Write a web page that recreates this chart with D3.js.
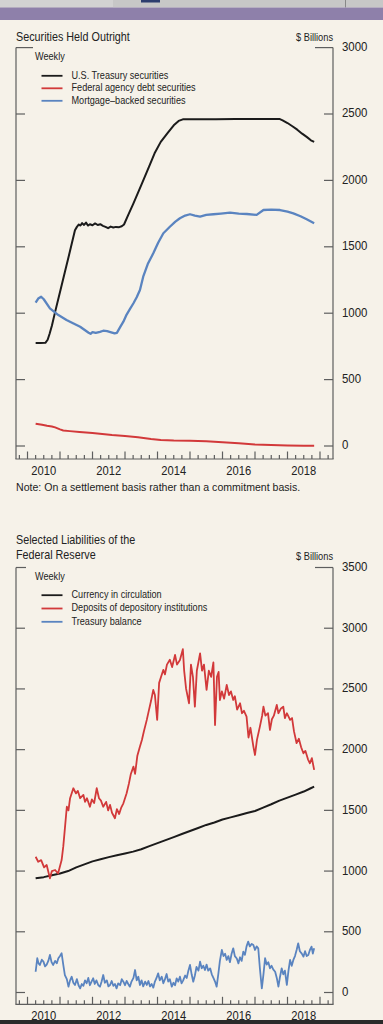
<!DOCTYPE html>
<html><head><meta charset="utf-8">
<script src="https://cdn.jsdelivr.net/npm/d3@7"></script>
<style>
html,body{margin:0;padding:0;background:#f6f2e9;}
svg{display:block;}
text{font-family:"Liberation Sans Narrow","Liberation Sans",Arial,sans-serif;fill:#222;}
</style></head>
<body>
<svg id="c" width="383" height="1024"></svg>
<script>
// ---------- DATA ----------
const yearLabels = [2010, 2012, 2014, 2016, 2018];

const chart1Title = ["Securities Held Outright"];
const chart1Series = ["U.S. Treasury securities", "Federal agency debt securities", "Mortgage\u2013backed securities"];
const chart1Ticks = [0, 500, 1000, 1500, 2000, 2500, 3000];
const chart1Note = "Note: On a settlement basis rather than a commitment basis.";

const treasury = [[2010.25,776],[2010.40,776],[2010.55,777],[2010.62,800],[2010.68,845],[2010.75,905],[2010.85,1010],
 [2011.00,1160],[2011.15,1310],[2011.30,1460],[2011.46,1625],[2011.52,1650],[2011.58,1668],[2011.63,1660],[2011.68,1678],
 [2011.74,1665],[2011.80,1682],[2011.86,1660],[2011.92,1670],[2012.00,1662],[2012.08,1676],[2012.16,1664],[2012.24,1670],
 [2012.32,1658],[2012.40,1650],[2012.48,1640],[2012.56,1652],[2012.64,1645],[2012.72,1650],[2012.82,1648],[2012.90,1655],
 [2012.97,1668],[2013.10,1740],[2013.26,1827],[2013.50,1965],[2013.75,2110],[2013.91,2204],[2014.10,2290],[2014.32,2360],
 [2014.50,2415],[2014.65,2448],[2014.78,2460],[2015.20,2461],[2015.80,2461],[2016.40,2462],[2017.00,2463],[2017.50,2463],
 [2017.75,2463],[2017.85,2452],[2018.00,2432],[2018.15,2408],[2018.30,2382],[2018.45,2352],[2018.60,2326],[2018.72,2302],[2018.82,2290]];

const agency = [[2010.25,168],[2010.45,160],[2010.60,152],[2010.75,147],[2010.85,140],[2011.00,125],[2011.10,117],[2011.30,112],
 [2011.60,105],[2012.00,97],[2012.30,90],[2012.60,82],[2013.00,76],[2013.40,66],[2013.80,53],[2014.10,45],[2014.50,41],
 [2015.00,39],[2015.50,36],[2016.00,28],[2016.50,20],[2017.00,11],[2017.50,7],[2018.00,4],[2018.50,2.5],[2018.82,2.4]];

const mbs = [[2010.25,1079],[2010.33,1110],[2010.42,1124],[2010.50,1105],[2010.69,1037],[2010.95,986],[2011.20,949],
 [2011.40,925],[2011.62,898],[2011.75,875],[2011.88,853],[2011.94,845],[2012.00,858],[2012.10,852],[2012.23,860],
 [2012.33,868],[2012.45,865],[2012.55,858],[2012.68,848],[2012.75,852],[2012.85,895],[2012.95,936],[2013.05,990],
 [2013.15,1030],[2013.26,1075],[2013.36,1120],[2013.46,1175],[2013.56,1275],[2013.70,1370],[2013.87,1451],[2014.02,1530],
 [2014.18,1602],[2014.38,1651],[2014.55,1690],[2014.69,1715],[2014.85,1735],[2015.00,1745],[2015.15,1735],[2015.31,1727],
 [2015.50,1740],[2015.72,1745],[2015.95,1750],[2016.23,1757],[2016.50,1750],[2016.75,1747],[2017.05,1740],[2017.26,1777],
 [2017.50,1780],[2017.77,1777],[2018.00,1765],[2018.18,1752],[2018.40,1730],[2018.59,1707],[2018.72,1690],[2018.82,1677]];

const chart2Title = ["Selected Liabilities of the", "Federal Reserve"];
const chart2Series = ["Currency in circulation", "Deposits of depository institutions", "Treasury balance"];
const chart2Ticks = [0, 500, 1000, 1500, 2000, 2500, 3000, 3500];

const currency = [[2010.25,940],[2010.50,950],[2010.75,965],[2011.00,980],[2011.25,1000],[2011.50,1030],[2011.75,1055],
 [2012.00,1080],[2012.25,1097],[2012.50,1115],[2012.75,1130],[2013.00,1145],[2013.25,1160],[2013.50,1180],[2013.75,1205],
 [2014.00,1230],[2014.25,1255],[2014.50,1280],[2014.75,1305],[2015.00,1330],[2015.25,1355],[2015.50,1380],[2015.75,1400],
 [2016.00,1425],[2016.25,1442],[2016.50,1460],[2016.75,1478],[2017.00,1495],[2017.25,1522],[2017.50,1550],[2017.75,1580],
 [2018.00,1605],[2018.25,1630],[2018.50,1655],[2018.70,1680],[2018.82,1695]];

const deposits = [[2010.25,1118],[2010.33,1077],[2010.42,1090],[2010.51,1030],[2010.59,1050],[2010.69,940],[2010.75,1000],
 [2010.85,1009],[2010.94,980],[2011.05,1091],[2011.10,1201],[2011.15,1350],[2011.21,1530],[2011.26,1500],[2011.31,1600],
 [2011.41,1682],[2011.49,1640],[2011.55,1660],[2011.62,1600],[2011.72,1627],[2011.77,1570],[2011.83,1600],[2011.92,1530],
 [2011.98,1590],[2012.05,1560],[2012.13,1682],[2012.20,1600],[2012.26,1580],[2012.33,1530],[2012.42,1570],[2012.48,1500],
 [2012.54,1545],[2012.60,1480],[2012.69,1435],[2012.75,1510],[2012.82,1470],[2012.88,1520],[2012.95,1558],[2013.05,1641],
 [2013.12,1720],[2013.18,1800],[2013.26,1860],[2013.31,1800],[2013.38,1950],[2013.46,2025],[2013.52,2080],[2013.58,2150],
 [2013.67,2245],[2013.74,2330],[2013.80,2400],[2013.87,2492],[2013.92,2450],[2013.99,2245],[2014.05,2550],[2014.11,2600],
 [2014.18,2657],[2014.23,2620],[2014.29,2700],[2014.38,2740],[2014.45,2680],[2014.54,2780],[2014.60,2700],[2014.69,2739],
 [2014.78,2827],[2014.82,2650],[2014.88,2500],[2014.97,2382],[2015.03,2700],[2015.09,2600],[2015.15,2354],[2015.21,2650],
 [2015.31,2793],[2015.37,2650],[2015.43,2700],[2015.51,2492],[2015.58,2650],[2015.65,2600],[2015.72,2718],[2015.77,2203],
 [2015.83,2600],[2015.88,2640],[2015.92,2409],[2015.98,2480],[2016.05,2420],[2016.13,2533],[2016.20,2450],[2016.26,2480],
 [2016.33,2409],[2016.38,2440],[2016.45,2330],[2016.54,2382],[2016.60,2300],[2016.66,2320],[2016.74,2272],[2016.80,2100],
 [2016.86,2180],[2016.95,2025],[2017.00,1956],[2017.06,2080],[2017.15,2190],[2017.22,2280],[2017.26,2354],[2017.32,2280],
 [2017.40,2300],[2017.46,2162],[2017.52,2250],[2017.58,2280],[2017.67,2368],[2017.72,2300],[2017.80,2340],[2017.87,2354],
 [2017.92,2260],[2017.98,2300],[2018.08,2245],[2018.14,2260],[2018.20,2150],[2018.28,2053],[2018.35,2090],[2018.42,2020],
 [2018.49,1970],[2018.55,1990],[2018.63,1920],[2018.69,1888],[2018.75,1930],[2018.82,1833]];

const tgb = [[2010.25,171],[2010.30,282],[2010.34,240],[2010.38,227],[2010.44,270],[2010.49,254],[2010.54,215],[2010.59,230],
 [2010.64,260],[2010.69,309],[2010.74,250],[2010.79,227],[2010.85,260],[2010.90,240],[2010.95,282],[2011.00,300],[2011.05,323],
 [2011.10,230],[2011.15,144],[2011.21,110],[2011.26,48],[2011.31,100],[2011.36,130],[2011.41,80],[2011.46,62],[2011.52,110],
 [2011.57,60],[2011.62,34],[2011.67,70],[2011.72,55],[2011.77,100],[2011.82,76],[2011.87,120],[2011.92,60],[2011.97,90],
 [2012.02,117],[2012.07,70],[2012.12,100],[2012.18,60],[2012.23,48],[2012.28,90],[2012.33,144],[2012.38,80],[2012.44,100],
 [2012.49,50],[2012.54,62],[2012.59,95],[2012.64,55],[2012.69,70],[2012.74,34],[2012.79,75],[2012.85,60],[2012.90,110],
 [2012.95,89],[2013.00,60],[2013.05,95],[2013.10,70],[2013.15,48],[2013.20,90],[2013.26,120],[2013.31,185],[2013.36,100],
 [2013.41,130],[2013.46,62],[2013.51,100],[2013.56,50],[2013.62,90],[2013.67,62],[2013.72,95],[2013.77,50],[2013.82,70],
 [2013.87,40],[2013.92,90],[2013.97,120],[2014.02,158],[2014.07,100],[2014.13,130],[2014.18,76],[2014.23,110],[2014.28,152],
 [2014.33,90],[2014.38,110],[2014.44,48],[2014.49,80],[2014.54,60],[2014.59,117],[2014.64,90],[2014.69,130],[2014.74,76],
 [2014.79,100],[2014.85,140],[2014.90,120],[2014.95,180],[2015.00,227],[2015.05,150],[2015.10,89],[2015.15,140],[2015.20,210],
 [2015.26,180],[2015.31,254],[2015.36,200],[2015.41,220],[2015.46,185],[2015.51,230],[2015.56,180],[2015.62,199],[2015.67,150],
 [2015.72,120],[2015.77,90],[2015.82,48],[2015.87,150],[2015.92,260],[2015.98,350],[2016.03,300],[2016.08,320],[2016.13,268],
 [2016.18,300],[2016.23,250],[2016.28,320],[2016.33,364],[2016.38,300],[2016.44,280],[2016.49,240],[2016.54,290],[2016.59,260],
 [2016.64,336],[2016.69,310],[2016.74,380],[2016.79,419],[2016.84,380],[2016.90,400],[2016.95,391],[2017.00,350],[2017.05,380],
 [2017.10,364],[2017.15,200],[2017.21,34],[2017.26,150],[2017.31,282],[2017.36,230],[2017.41,250],[2017.46,199],[2017.51,220],
 [2017.56,190],[2017.62,171],[2017.67,120],[2017.72,48],[2017.77,130],[2017.82,199],[2017.87,150],[2017.92,180],[2017.98,62],
 [2018.03,180],[2018.08,268],[2018.13,220],[2018.18,268],[2018.23,300],[2018.28,350],[2018.33,405],[2018.38,340],[2018.44,320],
 [2018.49,295],[2018.54,340],[2018.59,300],[2018.64,309],[2018.69,350],[2018.74,378],[2018.78,320],[2018.82,364]];

// ---------- DRAW ----------
const svg = d3.select("#c");
const W = 383, H = 1024;
const COL = {black:"#1b1b1b", red:"#d2393a", blue:"#5a84c0", frame:"#5e5e5e"};

// condensed text helper (horizontal squeeze to mimic a condensed face)
function txt(g, x, y, s, size, sx, anchor) {
  return g.append("text")
    .attr("transform", `translate(${x},${y}) scale(${sx},1)`)
    .attr("x", 0).attr("y", 0)
    .attr("font-size", size)
    .attr("dominant-baseline", "middle")
    .attr("text-anchor", anchor || "start")
    .text(s);
}

// screenshot chrome
svg.append("rect").attr("x",0).attr("y",0).attr("width",W).attr("height",H).attr("fill","#f6f2e9");
svg.append("rect").attr("x",0).attr("y",0).attr("width",W).attr("height",7.5).attr("fill","#c7c7c7");
svg.append("rect").attr("x",0).attr("y",0).attr("width",113).attr("height",7.5).attr("fill","#d2d2d2");
svg.append("rect").attr("x",141).attr("y",0).attr("width",19).attr("height",2.5).attr("fill","#2d3d6e");
svg.append("rect").attr("x",345).attr("y",0).attr("width",1).attr("height",7.5).attr("fill","#888");
svg.append("rect").attr("x",0).attr("y",7.5).attr("width",W).attr("height",12.5).attr("fill","#8e80aa");
svg.append("rect").attr("x",0).attr("y",1020).attr("width",W).attr("height",4).attr("fill","#2a2a2a");

const xL = 16, xR = 333;
const x = d3.scaleLinear().domain([2009.646, 2019.4]).range([xL, xR]);

function panel(o) {
  const g = svg.append("g");
  const y = d3.scaleLinear().domain([0, o.ymax]).range([o.y0, o.ytop]);
  o.title.forEach((t,i)=> txt(g, xL, o.titleY + i*14.5, t, 13, 0.83));
  txt(g, xR, o.billY, "$ Billions", 10.5, 0.88, "end");
  // frame
  const fr = g.append("g").attr("stroke",COL.frame).attr("stroke-width",1.2).attr("fill","none");
  fr.append("line").attr("x1",xL).attr("x2",xL).attr("y1",y(o.ymax)).attr("y2",o.axisY);
  fr.append("line").attr("x1",xR).attr("x2",xR).attr("y1",y(o.ymax)).attr("y2",o.axisY);
  fr.append("line").attr("x1",xL-0.6).attr("x2",xR+0.6).attr("y1",o.axisY).attr("y2",o.axisY);
  o.ticks.forEach(v=>{
    const yy = y(v);
    const top = v === o.ymax;
    fr.append("line").attr("x1",xL).attr("x2",xL + (top ? o.topL : 9)).attr("y1",yy).attr("y2",yy);
    fr.append("line").attr("x1",xR - (top ? 18 : 9)).attr("x2",xR).attr("y1",yy).attr("y2",yy);
    txt(g, 342, yy, String(v), 13, 0.88);
  });
  const qt = d3.range(2009.75, 2019.3, 0.25);
  qt.forEach(t=>{
    const isYear = Math.abs(t - Math.round(t)) < 1e-6;
    fr.append("line").attr("x1",x(t)).attr("x2",x(t)).attr("y1",o.axisY).attr("y2",o.axisY - (isYear ? 7.5 : 4));
  });
  yearLabels.forEach(yr=> txt(g, x(yr+0.5), o.axisY+12.5, String(yr), 13, 0.86, "middle"));
  // legend
  txt(g, 35, o.legY, "Weekly", 11, 0.83);
  o.names.forEach((n,i)=>{
    const ly = o.legY + 18.5 + i*o.legStep;
    g.append("line").attr("x1",41.5).attr("x2",62.5).attr("y1",ly).attr("y2",ly).attr("stroke",o.colors[i]).attr("stroke-width",1.8);
    txt(g, 71.5, ly, n, 11, 0.83);
  });
  const line = d3.line().x(d=>x(d[0])).y(d=>y(d[1]));
  o.series.forEach((s,i)=>{
    g.append("path").datum(s).attr("d",line).attr("fill","none").attr("stroke",o.colors[i])
      .attr("stroke-width",o.widths[i]).attr("stroke-linejoin","round");
  });
  return g;
}

panel({ymax:3000, y0:446, ytop:47.6, axisY:459, title:chart1Title, titleY:37.8, billY:38, ticks:chart1Ticks, topL:17,
  legY:57.3, legStep:12.5, names:chart1Series, colors:[COL.black,COL.red,COL.blue],
  series:[treasury, agency, mbs], widths:[2,2,2.3]});

txt(svg, xL, 487.7, chart1Note, 11.5, 0.92);

panel({ymax:3500, y0:992.5, ytop:567.5, axisY:1004.3, title:chart2Title, titleY:540.7, billY:557.7, ticks:chart2Ticks, topL:10,
  legY:576.7, legStep:13.3, names:chart2Series, colors:[COL.black,COL.red,COL.blue],
  series:[currency, deposits, tgb], widths:[2,1.8,1.8]});
</script>
</body></html>
